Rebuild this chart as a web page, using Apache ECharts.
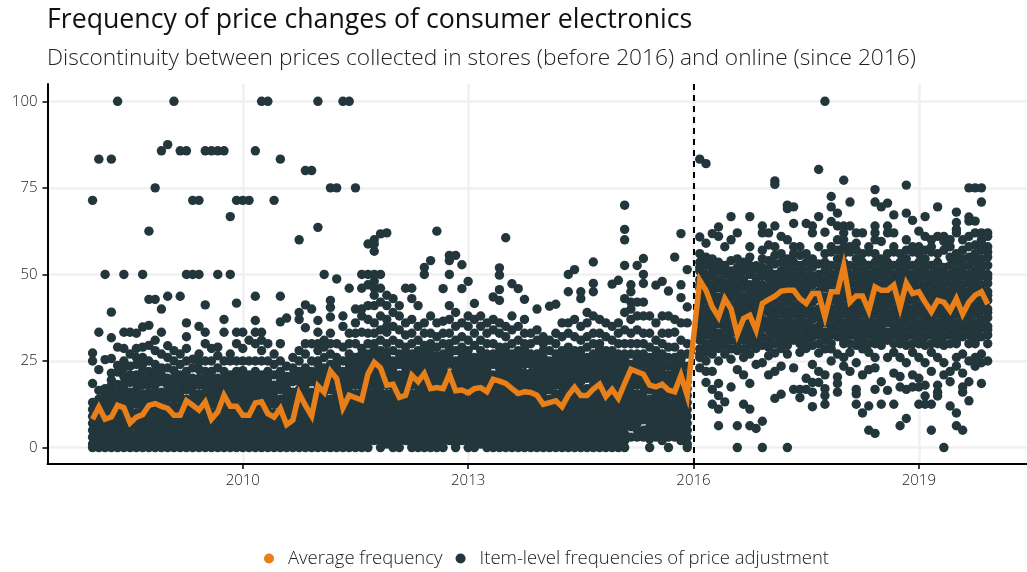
<!DOCTYPE html>
<html><head><meta charset="utf-8">
<style>html,body{margin:0;padding:0;background:#fff}#c{width:1027px;height:572px}</style>
<script src="https://cdn.jsdelivr.net/npm/echarts@6/dist/echarts.min.js"></script>
</head><body><div id="c"></div>
<script>
const titleText = "Frequency of price changes of consumer electronics";
const subtitleText = "Discontinuity between prices collected in stores (before 2016) and online (since 2016)";
const xTicks = [2010, 2013, 2016, 2019];
const yTicks = [0, 25, 50, 75, 100];
const breakYear = 2016;
const firstYear = 2008;
const averageFrequency = [
8.2,11.7,8.2,8.8,12.2,11.5,7.1,8.8,9.5,12.2,12.7,11.9,
11.3,9.3,9.3,13.5,12.2,10.8,13.2,8.2,10.3,15.1,11.9,11.9,
9.3,9.3,12.9,13.2,9.8,8.8,11.3,6.6,7.9,15.6,12.2,9.1,
17.8,15.9,22.1,19.9,11.5,15.1,14.4,13.7,21.3,24.6,23,18,
18.3,14.5,15.1,20.9,19,21.4,17,17.3,17,21.2,16.4,16.6,
15.8,17,17.3,16.1,19.7,19.2,18.5,17,15.6,16.1,15.9,15.1,
12.5,13,13.5,11.8,15.1,17.4,15,15,16.9,18.3,14.7,16.8,
14.2,18.5,22.6,21.9,21.2,18,17.5,18.3,16.6,16.1,20.9,15,
null,48.3,45.4,40.6,37.7,43,40.1,32.7,37.3,38.2,33.9,41.6,
42.7,43.7,45.2,45.4,45.4,43,41.6,44.5,44.5,37.7,45,45,
52.5,42,43.8,43.8,39.5,46.4,45.4,45.4,46.9,40.4,47.5,44.5,
45,42,39.2,42.5,42,39.5,43,38.5,42,44,45,41.4];
const items2008 = [
[71.4,27.3,25,18.5,13,11,9,7,5,3,1,0],
[83.3,33.3,22.5,16.5,14,12,10,8,6,4,2,0],
[50,25.4,15,13,11,9,7.7,5.6,3.7,2,0],
[83.3,39.1,31.7,25.7,21.5,18,16,14,12,10,8,6,4,2,0],
[100,29,23.7,21.8,18.2,16,14,11.8,9.5,7.4,5.3,3.2,1.5,0],
[50,33.3,28.6,25,23,20.5,17,15,12.5,10,8,6,4,2,0],
[33.3,27,23.5,21,18.8,16,14,12,10,8,6,4,2,0],
[33,28.6,26,24,21,16.7,14.3,12.5,10,8.3,6.3,4,2,0],
[50,34.8,29,26,22.2,20,18,15.4,13,11,9,7,5,3,1.5,0],
[62.5,42.8,35.3,29.5,25,22,18.2,16,14,12,10,8,6,4,2,0],
[75,42.8,31,28,24,20,18,16,14,12,10,8,6,4,2,0],
[85.7,40,33.3,27,23,19,16,14,12,10,8,6,4,2,0]];
const items2009 = [
[87.5,43.7,29.4,26,23,20,18,16,14.3,12,10,8,6,4,2,0],
[100,28,25,22.2,20,18,16,14,12,10,8,6,4,2,0],
[85.7,43.7,27,24,21,18.2,16,14.3,12,10,8,6,4,2,0],
[85.7,50,36,32,28.6,25,22,19,16.7,14,12,10,8,6,4,2,0],
[71.4,50,25.5,23,20,18,16,14,12,10,8,6,4,2,0],
[71.4,50,35,27,24.7,20,18,15.4,13,11,9,7,5,3,1,0],
[85.7,41.2,33.3,30,25,22,20,18,16,14,12,10,8,6,4,2,0],
[85.7,28.6,25,22,19,16.7,14.3,12.5,10,8,6,4,2,0],
[85.7,50,29,26.5,23,20,17,15,13,11,9,7,5,3,1,0],
[85.7,37,33.3,25,22,18,16,14,12,10,8,6,4,2,0],
[66.7,50,27,25,21,18,16,14,12,10,8,6,4,2,0],
[71.4,41.7,33.3,30,25,22,19,16.7,14.3,12,10,8,6,4,2,0]];
const items2010 = [
[71.4,33.3,28.6,25,22.2,20,18,16,14,12,10,8,6,4,2,0],
[71.4,31,25,21,19,17,15,13,11,9,7,5,3,1,0],
[85.7,43.7,36.7,33.3,30,25,22,20,18,16,14,12,10,8,6,4,2,0],
[100,33.3,31,28,25,21,18,16,14,12,10,8,6,4,2,0],
[100,30,25,22,19,16.7,14.3,12,10,8,6,4,2,0],
[71.4,27,24,21,18,16,14,12.5,10,8,6,4,2,0],
[83.3,43.7,36.3,30,25,22,19,16.7,14,12,10,8,6,4,2,0],
[37.4,23.5,20.5,17,15,13,11,9,7,5,3,1,0],
[26,23,19,16,14,12,10,8,6,4,2,0],
[60,39,37,28,25,22,19,16.7,14,12,10,8,6,4,2,0],
[80,41.2,34.6,30,27,23,20,18,16,14,12,10,8,6,4,2,0],
[80,40,30,25,22,19,16,14,12,10,8,6,4,2,0]];
const items2011 = [
[100,63.6,36.7,33.3,30,28,25,22,20,18,16,14,12,10,8,6,4,2,0],
[50,31,29,26,23,20,18,16,14,12,10,8,6,4,2,0],
[75,42.5,40.5,37.7,33,30,27,24,21,19,16.7,14,12,10,8,6,4,2,0],
[75,48.7,30,26,23,20,18,15.4,13,11,9,7,5,3,1,0],
[100,38,35,29,25,22,19,16.7,14.3,12,10,8,6,4,2,0],
[100,46,33,30,27,24,21,18,16,14,12,10,8,6,4,2,0],
[75,40,36,33,30,26,23,20,18,15.4,13,11,9,7,5,3,1,0],
[50,46,40,38,33.3,28.6,25,22,20,18,16,14,12,10,8,6,4,2,0],
[58.8,50,47,41,37,33,30,27,24,21,18,16,14,12,10,8,6,4,2,0],
[60,58.8,56.7,50,48,44,41,36,33,30,27,24,21,18.2,16,14,12,10,8,6,4,2],
[61.7,50,46,42,38,34,31,28,25,22,20,18,16,14,12,10,8,6,4,2,0],
[62,44,41,37,33.3,30,26,23,21,18,15.4,13,11,9,7,5,3,1]];
const items2012 = [
[43,39,35,31,28,25,23,20,18,16,14,12,10,8,6,4,2,0],
[41,38,34,30,27,24,21,18.5,16.7,14,12,10,8,6,4,2,0],
[46,36,32.5,29,26.5,23,20,18,16,14,12,10,8,6,4,2],
[46,43,37,33,30,27,24,21,18,15.4,13,11,9,7,5,3,1,0],
[41,35,31,28,25,22,20,18,16,14,12,10,8,6,4,2,0],
[52,50,36,33,29.5,26,23,20,18,16,14,12,10,8,6,4,2,0],
[54,38,33,30,27,24,21,18,15.4,13,11,9,7,5,3,1,0],
[62.5,36,32,29,25,22,20,18,16,14,12,10,8,6,4,2,0],
[45.9,36.5,33,30,27,24,21,18,16,14,12,10,8,6,4,2,0],
[55.5,54,50,41,37,33,30,27,24,21,18.2,16,14,12,10,8,6,4,2],
[55.5,39,35,31,28,25,22,20,17,15,13,11,9,7,5,3,1,0],
[52.8,45.9,36,32,29,26,23,20,18,16,14,12,10,8,6,4,2]];
const items2013 = [
[48,38,35,31,28,25,22,19,16.7,14,12,10,8,6,4,2,0],
[41.6,37,33,29.5,26,23,20,18,16,14,12,10,8,6,4,2,0],
[38,35,31,28,25,21,18,15.4,13,11,9,7,5,3,1],
[36,33,30,27,24,21,18,16,14,12,10,8,6,4,2,0],
[43.5,37,34,30,27,24,21,18.2,16,14,12,10,8,6,4,2,0],
[51.9,49.8,45.6,42.5,36,33,29,26,23,20,18,16,14,12,10,8,6,4,2,0],
[60.6,35,32,29,26,23,20,17,15,13,11,9,7,5,3,1,0],
[47.3,38,34,30,27,24,21,18,16,14,12,10,8,6,4,2,0],
[45.9,35,31,28,25,22,19,16.7,14,12,10,8,6,4,2,0],
[42.8,37,33,30,27,24,20,18,15.4,13,11,9,7,5,3,1,0],
[33,30,27,24,20,18,16,14,12,10,8,6,4,2,0],
[40,34,31,27,24,21,18,16,14,12,10,8,6,4,2,0]];
const items2014 = [
[32,30,26,23,20,18,16,14,12,10,8,6,4,2,0],
[40.8,31,28,25,22,19,16.7,14,12,10,8,6,4,2,0],
[41.4,33,30,27,24,21,18,15.4,13,11,9,7,5,3,1,0],
[36,32,28,25,21,18,16,14,12,10,8,6,4,2,0],
[50,45,36,33,29,26,23,20,18,16,14,12,10,8,6,4,2,0],
[51.4,37,32,28,25,21,18,16,14,12,10,8,6,4,2,0],
[45,43,35,31,28,25,22,19,16.7,14,12,10,8,6,4,2,0],
[39,36,32,29,26,23,20,17,15,13,11,9,7,5,3,1,0],
[53.6,47.4,45,38,33,30,27,24,21,18,16,14,12,10,8,6,4,2,0],
[37,33,30,27,24,21,18,16,14,12,10,8,6,4,2,0],
[36,32,28,25,22,19,16.7,14,12,10,8,6,4,2,0],
[47.2,35,31,28,24,21,18,15.4,13,11,9,7,5,3,1,0]];
const items2015 = [
[48.3,36,33,30,27,24,21,18,16,14,12,10,8,6,4,2,0],
[70,63,60,52.6,43,39,34,30,27,24,21,18,16,14,12,10,8,6,4,2,0],
[47,45,42,40,37,33,30,27,24,21,18,16,14,12,10,8,6,3],
[52.6,42,38,34,30,27,24,21,18,15.4,13,11,9,7,5,3],
[54.6,50,47.4,42,38,33,30,27,24,20,18,16,14,12,10,8,5,3],
[38,33,29,26,23,19,16.7,14,12,10,8,6,4,2.5,0],
[46.9,36,31,28,25,22,20,17,15,13,11,9,7,5,3],
[48,38,33,30,27,23,19,16,14,12,10,8,6,4,2],
[45.2,38,33,29,26,21,18,15.4,13,11,9,7,5,3,0],
[55,37,33.3,29,26,23,20,18,15,13,11,9,7,5,3],
[61.8,47,43.3,36,31,27,24,22,18,16,14,12,10,8,6,4,2],
[51.4,40.6,36,30,27,21,17,15,13,11,9,7,5,3,1,0]];
const items2016 = [
[],
[83.3,60.8,56,53.5,51,48.5,46,43.5,41,38.5,36,33.5,31,28.5,26,23],
[82,59,55,52.6,50,47.4,45,42.5,40,37.5,35,32.5,30,27.5,25,22,18.8],
[61.8,54.5,52,49.5,47,44.4,42,39.5,37,34.5,32,29.5,27,22,16.8,12.5],
[63.7,61,53.5,51,48.5,46.2,43.5,41,38.5,35.7,33,30.5,28.6,25,18.5,15,11.1,6.3],
[58,52.6,50,47.4,45,42,39.5,37,34.5,32,29.5,27,13.2],
[66.7,60,54,51,48.5,46,43.5,41,38.5,36,33.3,31,28.5,25.5,17.5],
[62,54.5,52,49.5,47,44.5,42,39.5,37,35.7,33,30.5,28,22.5,6.3,0],
[53.5,51,48.5,46,43.5,41,38.5,36,33.5,31,28.5,26,21,12.5],
[66.7,58,55,52.6,50,47,44.4,42,39.5,37,34.5,32,29.5,27,18.5,11.1,6.3],
[51.5,49,46.5,44,41.5,39,36.4,33.3,31,28.6,24,5.5],
[64,62,57,54.5,52,49.5,47,44.4,42,39.5,37,34.5,32,29.5,24.5,7.6,0]];
const items2017 = [
[62,54,51.5,49,46.5,44,41.7,39,36.5,34,31.5,29,26.5,21],
[77,76,64,58,55.5,53,50,47.4,45,42.5,40,37.5,35,32.5,30,27.3,22,14.2],
[61,56,53.5,51,48.5,46.2,43.5,41,38.5,36,33.3,31,28.6,23.5,15.4],
[70,69,60,54.5,52,49.5,47,44.5,42,39.5,37,34.5,32,29.5,27,0],
[69.5,64.7,56,53.5,51,48.5,46,43.5,41,38.5,36,33.5,31,23,16.8],
[58,55.5,52.6,50,47.4,45,42.5,40,37.5,35,32.5,30,27.5,16.8,14.4],
[64.7,56,53.5,51,48.5,46,43.5,41,38.5,36,33.3,31,28.6,20,16.8],
[64,62,54.5,52,49.5,47,44.4,42,39.5,37,34.5,32,29.5,24,18.8,16,11.8],
[80.3,66.7,58,53,50,47.5,45,42.9,40,37.5,35,32.5,30,27.3,22,18.8],
[100,62.2,56,53.5,51,48.5,46.2,43.5,41,38.5,36,33.3,31,28.5,21,17,15,12.5],
[72.5,69.5,65.3,58,52.6,50,47.4,45,42.5,40,37.5,35,32.5,30,25],
[67.7,64,57,54.5,52,49.5,47,44.4,42,39.5,37,34.5,32,27,20.4,18.5,16]];
const items2018 = [
[77.2,64,62,60,56,53.5,51,48.5,46,43.5,41,38.5,36,33.3,31,26,23.5],
[70.9,64,58,52.6,50,47.4,45,42.5,40,37.5,35,32.5,30,27.5,22],
[62,57,54.5,52,49.5,47,44.4,42,39.5,37,34.5,32,29.5,24.5,16.8,15.5,12.5],
[62,56,53.5,51,48.5,46.2,43.5,41,38.5,36,33.3,31,28.5,21,10],
[58,52.6,50,47.4,45,42.5,40,37.5,35,32.5,30,27.5,22.5,12,5],
[74.5,70.9,64,62,60,56,53.5,51,48.5,46,43.5,41,38.5,36,33.3,31,26,23,16.8,4.1],
[69.5,54.5,52,49.5,47,44.4,42,39.5,37,34.5,32,29.5,19,12.5],
[70.6,64,62,56,53.5,51,48.5,46.2,43.5,41,38.5,36,33.3,31,26,16.5],
[67.2,62,58,52.6,50,47.4,45,42.5,40,37.5,35,32.5,30,27.5,21.5,12.5],
[56,53.5,51,48.5,46,43.5,41,38.5,36,33.3,31,26,20.5,17.5,6.3],
[75.8,67.7,57,54.5,52,49.5,47,44.4,42,39.5,37,34.5,32,29.5,24.5,16.8,8.4],
[65.6,58,52.6,50,47.4,45,42.5,40,37.5,35,32.5,30,27.5,21,17.5]];
const items2019 = [
[62.5,56,53.5,51,48.5,46.2,43.5,41,38.5,36,33.3,31,26,20,17.5,12.5],
[66.7,61,57,54.5,52,49.5,47,44.4,42,39.5,37,34.5,32,29.5,24.5,18,14.9,12.5],
[58,52.6,50,47.4,45,42.5,40,37.5,35,32.5,30,27.5,22,12.5,5],
[69.5,61,56,53.5,51,48.5,46,43.5,41,38.5,36,33.3,31,26,18,16,14.9],
[61,57,52,49.5,47,44.4,42,39.5,37,34.5,32,29.5,24.5,21,0],
[58,55,52.6,50,47.4,45,42.5,40,37.5,35,32.5,30,22,19,12],
[68,65,63,62,56,53.5,51,48.5,46.2,43.5,41,38.5,36,33.3,31,26,23.5,10,6.3],
[57,54.5,52,49.5,47,44.4,42,39.5,37,34.5,32,27,21.5,17.5,16,5],
[75,66.6,65.4,58,55,52.6,50,47.4,45,42.5,40,37.5,35,32.5,30,25,19,13.5],
[75,65.4,62,56,53.5,51,48.5,46,43.5,41,38.5,36,33.3,31,26,23.5],
[75,70.9,62,60,57,54.5,52,49.5,47,44.4,42,39.5,37,34.5,32,27,24.5,18.5],
[62,61,58,55,52.6,50,47.4,45,42.5,40,37.5,35,32.5,30,25]];
// Further item values read from the densest parts of the cloud, month by month.
const dense2008 = [[],[],[17],[19.5],[],[18.5],[20],[18.5],[24],[20],[22],[21]];
const dense2009 = [[18],[],[19.5],[20.5],[],[22.5],[18.5],[20.5],[18.5],[20],[19.5],[20.5]];
const dense2010 = [[19],[],[19],[19.5],[20.5],[],[20.5],[18.5],[21],[20.5],[21.5],[20.5]];
const dense2011 = [[21,24],[21.5],[18,22.5],[21.5,24.5],[20.5],[19.5,22.5,25.5],[21.5,24.5],[23.5,27],[19,22.5,25.5],[19.5,22.5,25.5,28.5,46],[23.5,26.5],[19.5,24.5,27.5,35]];
const dense2012 = [[21.5,24],[19.5,25.5],[21.5,24.5,27.5],[19.5,22.5,25.5],[20,23.5,26.5],[21.5,24.5,27.5],[19.5,22.5,25.5,28.5],[21,23.5,26.5],[19.5,22.5,25.5],[19.5,25.5,28.5],[18.5,23.5],[21.5,24.5,27.5]];
const dense2013 = [[20.5,23.5,26.5],[21.5,24.5],[19.5,23,26.5],[19.5,22.5,25.5],[19.5,25.5],[21.5,24.5,27.5],[18.5,21.5,24.5,27.5],[19.5,22.5,25.5],[20.5,23.5,26.5],[21.5,25.5,28.5],[21.5,25.5],[19.5,22.5,25.5]];
const dense2014 = [[21.5,24.5,28],[20.5,23.5],[19.5,22.5,25.5],[19.5,23,26.5],[21.5,24.5,27.5],[19.5,23,26.5],[20.5,23.5,26.5],[21.5,24.5],[19.5,22.5,25.5],[19.5,22.5,25.5,28.5],[20.5,23.5,26.5],[19.5,22.5,26]];
const dense2015 = [[19.5,22.5,25.5],[19.5,22.5,25.5],[19.5,22.5],[19.5,22.5,25.5],[21.5,25.5],[21,24.5],[18.5,23.5,26.5],[21,25],[19.5,23.5],[21.5,24.5],[20,25.5],[19,23.5]];
const dense2016 = [[],[27,32,37,42,47,52],[28.5,33.5,38.5,43.5,48.5,53.5],[30.5,35.5,40.5,45.5,50.5],[32,37,42,47,52],[31,36,41,46,51],[34.5,39.5,44.5,49.5],[29,34.5,40.5,45.5,50.5],[32,37,42,47,52],[30.5,35.5,40.5,45.5,50.5],[32.5,37.5,42.5,47.5,52.5],[35.5,40.5,45.5,50.5]];
const dense2017 = [[30,35,40,45,50,58.5],[33.5,38.5,43.5,48.5],[30,35,40,45,50],[33,38,43,48],[34.5,39.5,44.5,49.5,58],[31,36,41,46,51],[35,40,45,50],[33,38,43,48],[33.5,38.5,44,48.5],[32.5,37.5,42.5,47.5,52.5],[28.5,33.5,38.5,43.5,48.5,56.5],[35.5,40.5,45.5,50.5,60]];
const dense2018 = [[30,35,40,45,50,58],[33.5,38.5,43.5,48.5,56.5],[35.5,40.5,45.5,50.5,59],[30,35,40,45,50],[33.5,38.5,43.5,48.5,56.5],[30,35,40,45,50],[30.5,35.5,40.5,45.5,50.5,59.5],[32.5,37.5,42.5,47.5,52.5],[33.5,38.5,43.5,48.5,56.5],[30,35,40,45,50],[35.5,40.5,45.5,50.5,60],[33.5,38.5,43.5,48.5,56.5]];
const dense2019 = [[30,35,40,45,50,58],[35.5,40.5,45.5,50.5],[33.5,38.5,43.5,48.5,56.5,60],[30,35,40,45,50],[35.5,40.5,45.5,50.5,59.5],[33.5,38.5,43.5,48.5,60],[30,35,40,45,50],[35.5,40.5,45.5,50.5,60],[33.5,38.5,43.5,48.5,61],[30,35,40,45,50,58.5],[35.5,40.5,45.5,50.5,59],[34,39,44,49,56.5]];
const itemRows = [...items2008,...items2009,...items2010,...items2011,...items2012,...items2013,...items2014,...items2015,...items2016,...items2017,...items2018,...items2019];
const denseRows = [...dense2008,...dense2009,...dense2010,...dense2011,...dense2012,...dense2013,...dense2014,...dense2015,...dense2016,...dense2017,...dense2018,...dense2019];
const yearOfMonth = m => firstYear + m / 12;
const itemPoints = itemRows.flatMap((row, m) => row.concat(denseRows[m]).map(v => [yearOfMonth(m), v]));
const avgPoints = averageFrequency.map((v, m) => [yearOfMonth(m), v]);
const font = "'Open Sans', sans-serif";
const dark = "#22363b", orange = "#e97f18";
const chart = echarts.init(document.getElementById('c'), null, {renderer:'canvas'});
chart.setOption({
  animation:false,
  backgroundColor:'#fff',
  title:[
    {text:titleText,left:47,top:7,padding:0,textStyle:{fontFamily:font,fontWeight:400,fontSize:26.7,color:'#111'}},
    {text:subtitleText,left:47,top:47,padding:0,textStyle:{fontFamily:font,fontWeight:300,fontSize:22.7,color:'#222'}}
  ],
  legend:{
    data:['Average frequency','Item-level frequencies of price adjustment'],
    left:264,top:549,icon:'circle',itemWidth:10,itemHeight:10,itemGap:13,padding:0,
    textStyle:{fontFamily:font,fontWeight:300,fontSize:18.5,color:'#222',padding:[0,0,0,9]}
  },
  grid:{left:47.5,right:0,top:84,bottom:108},
  xAxis:{type:'value',min:2007.4,max:2020.44,
    axisLine:{onZero:false,lineStyle:{color:'#000',width:2}},
    axisTick:{customValues:xTicks,length:5,lineStyle:{color:'#000',width:1.5}},
    axisLabel:{customValues:xTicks,formatter:v=>String(v),margin:9,fontFamily:font,fontWeight:300,fontSize:15,color:'#222'},
    splitLine:{show:true,lineStyle:{color:'#f0f0f0',width:2.5}}},
  yAxis:{type:'value',min:-4.75,max:105,
    axisLine:{show:true,onZero:false,lineStyle:{color:'#000',width:2}},
    axisTick:{show:true,customValues:yTicks,length:5,lineStyle:{color:'#000',width:1.5}},
    axisLabel:{customValues:yTicks,margin:10,fontFamily:font,fontWeight:300,fontSize:15,color:'#222'},
    splitLine:{show:true,lineStyle:{color:'#f0f0f0',width:2.5}}},
  series:[
    {name:'Item-level frequencies of price adjustment',type:'scatter',data:itemPoints,symbolSize:9.4,itemStyle:{color:dark,opacity:1},z:2,
     markLine:{silent:true,symbol:'none',label:{show:false},z:3,lineStyle:{color:'#000',type:[6,5],width:2,opacity:1},data:[{xAxis:breakYear}]}},
    {name:'Average frequency',type:'line',data:avgPoints,connectNulls:true,showSymbol:false,symbol:'circle',lineStyle:{color:orange,width:5.5,join:'miter'},itemStyle:{color:orange},z:4}
  ]
});
</script></body></html>
